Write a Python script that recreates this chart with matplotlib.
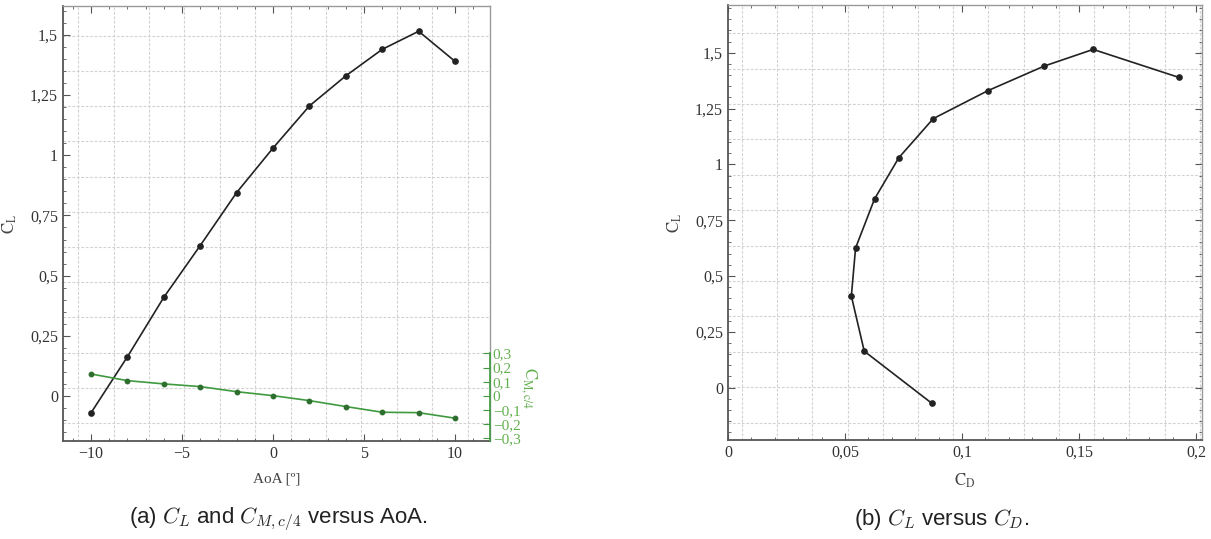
import numpy as np
import matplotlib
matplotlib.use("Agg")
import matplotlib.pyplot as plt
from matplotlib.ticker import FixedLocator, MultipleLocator, FixedFormatter

# ---------------- data ----------------
aoa = [-10, -8, -6, -4, -2, 0, 2, 4, 6, 8, 10]
cl = [-0.07, 0.163, 0.41, 0.625, 0.845, 1.03, 1.205, 1.33, 1.44, 1.515, 1.39]
cm = [0.155, 0.108, 0.085, 0.066, 0.030, 0.002, -0.033, -0.075, -0.115, -0.118, -0.157]
cd = [0.087, 0.0582, 0.0527, 0.0545, 0.0626, 0.073, 0.0877, 0.111, 0.135, 0.156, 0.1925]

aoa_ticks = [-10, -5, 0, 5, 10]
aoa_ticklabels = ["\u221210", "\u22125", "0", "5", "10"]
cl_ticks = [0, 0.25, 0.5, 0.75, 1, 1.25, 1.5]
cl_ticklabels = ["0", "0,25", "0,5", "0,75", "1", "1,25", "1,5"]
cm_ticks = [-0.3, -0.2, -0.1, 0, 0.1, 0.2, 0.3]
cm_ticklabels = ["\u22120,3", "\u22120,2", "\u22120,1", "0", "0,1", "0,2", "0,3"]
cd_ticks = [0, 0.05, 0.1, 0.15, 0.2]
cd_ticklabels = ["0", "0,05", "0,1", "0,15", "0,2"]

# ---------------- style ----------------
SERIF = ["Liberation Serif", "DejaVu Serif"]
TICKC = "#333333"
GRIDC = "#d2d2d2"
GREEN_LINE = "#3f9a3f"
GREEN_TXT = "#63b04f"

fig = plt.figure(figsize=(12.11, 5.39), dpi=100)

ax1 = fig.add_axes([63/1211, 98/539, 427/1211, 435/539])
ax3 = fig.add_axes([728/1211, 99/539, 474/1211, 435/539])


def style_frame(ax):
    for s in ["left", "bottom"]:
        ax.spines[s].set_color("#555555")
        ax.spines[s].set_linewidth(1.3)
    for s in ["top", "right"]:
        ax.spines[s].set_color("#9a9a9a")
        ax.spines[s].set_linewidth(1.0)
    ax.tick_params(which="both", direction="in", colors="#555555",
                   labelcolor=TICKC, labelsize=11.5)
    ax.tick_params(which="major", length=5, width=0.8)
    ax.tick_params(which="minor", length=2.5, width=0.6)
    for lab in ax.get_xticklabels() + ax.get_yticklabels():
        lab.set_family(SERIF)


# ---------- left panel ----------
ax1.set_xlim(-11.54, 11.92)
ax1.set_ylim(-0.187, 1.62)
# grid (not aligned with ticks, as in the reference)
for gx in np.arange(-10.7, 10.8, 1.945):
    ax1.axvline(gx, color=GRIDC, lw=0.8, ls=(0, (2.5, 1.5)), zorder=0)
for gy in np.arange(1.496, -0.15, -0.1462):
    ax1.axhline(gy, color=GRIDC, lw=0.8, ls=(0, (2.5, 1.5)), zorder=0)

ax1.plot(aoa, cl, color="#222222", lw=1.2, marker="o", ms=3.8, zorder=3)
ax1.xaxis.set_major_locator(FixedLocator(aoa_ticks))
ax1.xaxis.set_major_formatter(FixedFormatter(aoa_ticklabels))
ax1.xaxis.set_minor_locator(MultipleLocator(1))
ax1.yaxis.set_major_locator(FixedLocator(cl_ticks))
ax1.yaxis.set_major_formatter(FixedFormatter(cl_ticklabels))
ax1.yaxis.set_minor_locator(MultipleLocator(0.05))
style_frame(ax1)
ax1.tick_params(which="both", top=True, right=False)
ax1.set_xlabel("AoA [º]", family=SERIF, fontsize=11, color="#444444", labelpad=8)
ax1.set_ylabel(r"$\mathrm{C_L}$", fontsize=12, color="#444444",
               math_fontfamily="stix", labelpad=8)

ax2 = ax1.twinx()
ax2.set_ylim(-0.318, 2.752)
ax2.plot(aoa, cm, color=GREEN_LINE, lw=1.2, marker="o", ms=3.2,
         markerfacecolor="#2e6e2e", markeredgecolor="#2e6e2e", zorder=3)
ax2.yaxis.set_major_locator(FixedLocator(cm_ticks))
ax2.yaxis.set_major_formatter(FixedFormatter(cm_ticklabels))
for s in ["left", "top", "bottom"]:
    ax2.spines[s].set_visible(False)
ax2.spines["right"].set_bounds(-0.318, 0.3)
ax2.spines["right"].set_color(GREEN_LINE)
ax2.spines["right"].set_linewidth(1.2)
ax2.tick_params(axis="y", direction="in", length=5, width=0.8,
                colors=GREEN_LINE, labelcolor=GREEN_TXT, labelsize=11, pad=2)
for lab in ax2.get_yticklabels():
    lab.set_family(SERIF)
ax2.set_ylabel(r"$\mathrm{C_{M,c/4}}$", rotation=270, fontsize=12,
               color=GREEN_TXT, math_fontfamily="stix")
ax2.yaxis.set_label_coords(1.115, 0.122)

# ---------- right panel ----------
ax3.set_xlim(0, 0.2025)
ax3.set_ylim(-0.235, 1.714)
for gx in np.arange(0.006, 0.203, 0.01504):
    ax3.axvline(gx, color=GRIDC, lw=0.8, ls=(0, (2.5, 1.5)), zorder=0)
for gy in np.arange(1.588, -0.17, -0.1586):
    ax3.axhline(gy, color=GRIDC, lw=0.8, ls=(0, (2.5, 1.5)), zorder=0)

ax3.plot(cd, cl, color="#222222", lw=1.2, marker="o", ms=3.8, zorder=3)
ax3.xaxis.set_major_locator(FixedLocator(cd_ticks))
ax3.xaxis.set_major_formatter(FixedFormatter(cd_ticklabels))
ax3.xaxis.set_minor_locator(MultipleLocator(0.01))
ax3.yaxis.set_major_locator(FixedLocator(cl_ticks))
ax3.yaxis.set_major_formatter(FixedFormatter(cl_ticklabels))
ax3.yaxis.set_minor_locator(MultipleLocator(0.05))
style_frame(ax3)
ax3.tick_params(which="both", top=True, right=True)
ax3.set_xlabel(r"$\mathrm{C_D}$", fontsize=12, color="#444444",
               math_fontfamily="stix", labelpad=8)
ax3.set_ylabel(r"$\mathrm{C_L}$", fontsize=12, color="#444444",
               math_fontfamily="stix", labelpad=8)

# ---------- captions ----------
fig.text(278/1211, 1 - 519/539, r"(a) $C_L$ and $C_{M,c/4}$ versus AoA.",
         ha="center", va="center", fontsize=16, family="Liberation Sans",
         math_fontfamily="cm", color="#222222")
fig.text(942/1211, 1 - 519/539, r"(b) $C_L$ versus $C_D$.",
         ha="center", va="center", fontsize=16, family="Liberation Sans",
         math_fontfamily="cm", color="#222222")

fig.savefig("out.png", dpi=100)
